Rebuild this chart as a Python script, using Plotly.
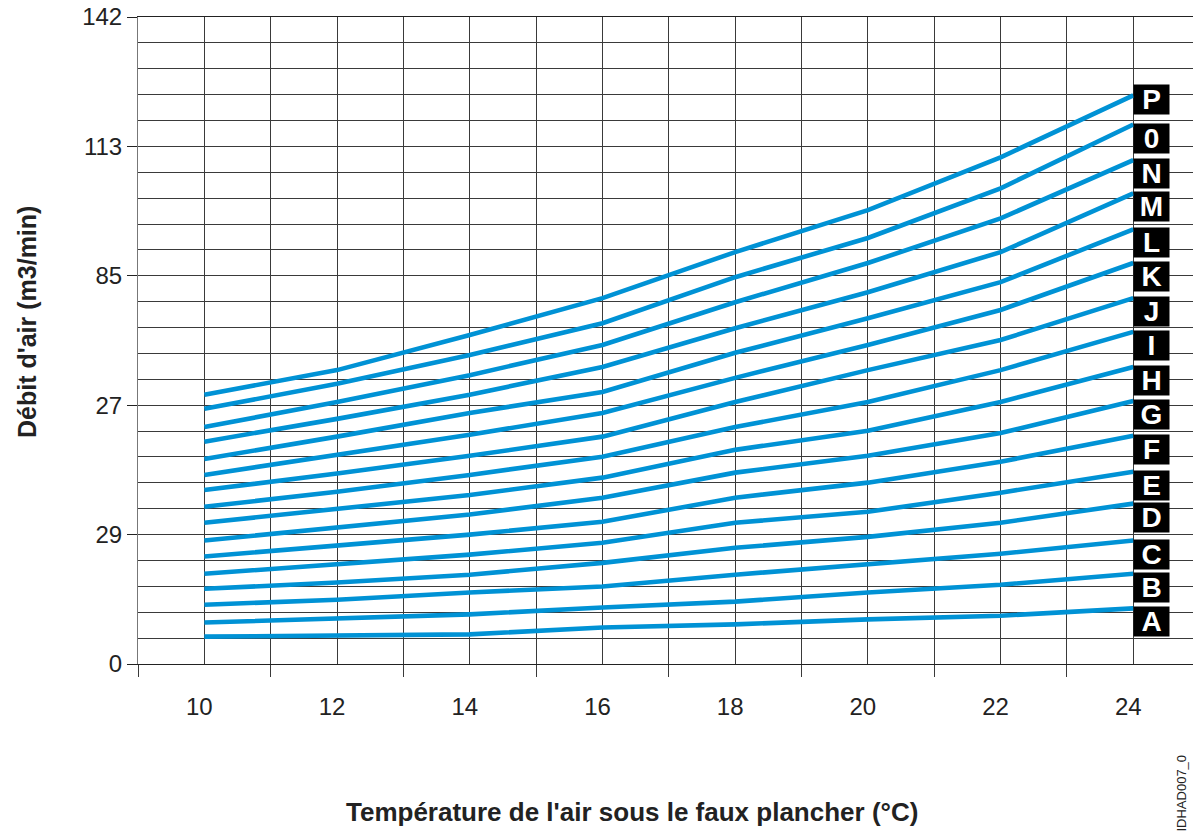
import plotly.graph_objects as go

# -------------------------------
# Données lues sur l'abaque
# -------------------------------
temperature = [10, 12, 14, 16, 18, 20, 22, 24]  # °C

debit_A = [6.0, 6.2, 6.5, 8.0, 8.7, 9.8, 10.6, 12.2]
debit_B = [9.1, 10.0, 10.9, 12.4, 13.7, 15.7, 17.4, 19.8]
debit_C = [13.0, 14.1, 15.7, 17.0, 19.6, 21.8, 24.2, 27.1]
debit_D = [16.5, 17.9, 19.6, 22.2, 25.5, 27.9, 31.0, 35.2]
debit_E = [19.8, 21.8, 24.0, 26.6, 31.0, 33.4, 37.6, 42.2]
debit_F = [23.6, 26.0, 28.4, 31.2, 36.5, 39.8, 44.4, 50.1]
debit_G = [27.1, 29.9, 32.8, 36.5, 42.0, 45.7, 50.7, 57.7]
debit_H = [31.0, 34.1, 37.1, 40.9, 47.0, 51.2, 57.5, 65.2]
debit_I = [34.5, 37.8, 41.5, 45.5, 52.0, 57.5, 64.5, 72.9]
debit_J = [38.2, 41.8, 45.7, 49.9, 57.5, 64.5, 71.1, 80.3]
debit_K = [41.5, 45.9, 50.3, 55.1, 62.8, 70.0, 77.7, 88.0]
debit_L = [45.0, 49.9, 55.1, 59.7, 68.3, 75.9, 83.8, 95.4]
debit_M = [48.8, 53.8, 59.1, 65.2, 73.7, 81.6, 90.4, 103.3]
debit_N = [52.0, 57.5, 63.4, 70.0, 79.4, 88.0, 97.8, 110.6]
debit_0 = [56.0, 61.5, 67.8, 74.8, 84.9, 93.5, 104.4, 118.4]
debit_P = [59.1, 64.5, 72.2, 80.3, 90.4, 99.6, 111.2, 124.8]

noms = ["A", "B", "C", "D", "E", "F", "G", "H",
        "I", "J", "K", "L", "M", "N", "0", "P"]
series = [debit_A, debit_B, debit_C, debit_D, debit_E, debit_F, debit_G, debit_H,
          debit_I, debit_J, debit_K, debit_L, debit_M, debit_N, debit_0, debit_P]

# graduations de l'axe Y (texte tel qu'imprimé sur l'original)
y_ticks = [0, 28.4, 56.8, 85.2, 113.6, 142]
y_labels = ["0", "29", "27", "85", "113", "142"]
x_ticks = [10, 12, 14, 16, 18, 20, 22, 24]

BLEU = "#0092D5"
GRILLE = "#3a3a3a"
POLICE = "Liberation Sans, Arial, sans-serif"

fig = go.Figure()

for nom, vals in zip(noms, series):
    fig.add_trace(go.Scatter(
        x=temperature, y=vals, mode="lines", name=nom,
        line=dict(color=BLEU, width=4.6),
        showlegend=False,
    ))

# étiquettes noires A..P en bout de courbe
decalage = {"P": 11}
for nom, vals in zip(noms, series):
    fig.add_annotation(
        x=temperature[-1], y=vals[-1], xref="x", yref="y",
        text=f"<b>{nom}</b>", showarrow=False,
        xanchor="left", yanchor="top", yshift=decalage.get(nom, 2),
        bgcolor="black", width=35, height=29, borderpad=0,
        align="center", valign="middle",
        font=dict(family=POLICE, size=28, color="white"),
    )

# titres des axes
fig.add_annotation(
    text="<b>Température de l'air sous le faux plancher (°C)</b>",
    xref="paper", yref="paper", x=0.468, y=-0.229,
    xanchor="center", yanchor="middle",
    showarrow=False, font=dict(family=POLICE, size=26, color="#222"),
)
fig.add_annotation(
    text="<b>Débit d'air (m3/min)</b>", textangle=-90,
    xref="paper", yref="paper", x=-0.105, y=0.529,
    xanchor="center", yanchor="middle",
    showarrow=False, font=dict(family=POLICE, size=25, color="#222"),
)
# référence du document, au bord droit
fig.add_annotation(
    text="IDHAD007_0", textangle=-90,
    xref="paper", yref="paper", x=1.0, y=-0.262,
    xanchor="right", yanchor="bottom", xshift=-2,
    showarrow=False, font=dict(family=POLICE, size=13, color="#222"),
)

fig.update_xaxes(
    range=[9, 24.9], automargin=False,
    tickmode="array", tickvals=x_ticks, ticks="",
    ticklabelshift=-5, ticklabelstandoff=21,
    showgrid=True, gridcolor=GRILLE, gridwidth=1,
    minor=dict(tickmode="linear", tick0=9, dtick=2, ticks="outside",
               ticklen=12, tickcolor=GRILLE, tickwidth=1,
               showgrid=True, gridcolor=GRILLE, gridwidth=1),
    showline=True, mirror=True, linecolor="#222", linewidth=1.2,
    zeroline=False,
    tickfont=dict(family=POLICE, size=24, color="#222"),
)
fig.update_yaxes(
    range=[0, 142], automargin=False,
    tickmode="array", tickvals=y_ticks, ticktext=y_labels,
    ticklabeloverflow="allow",
    ticks="outside", ticklen=10, tickcolor="#222", tickwidth=1,
    showgrid=True, gridcolor=GRILLE, gridwidth=1.2,
    minor=dict(tickmode="linear", tick0=0, dtick=5.68,
               showgrid=True, gridcolor=GRILLE, gridwidth=1.2),
    showline=True, linecolor="#777", linewidth=1,
    zeroline=False,
    tickfont=dict(family=POLICE, size=24, color="#222"),
)

fig.update_layout(
    width=1193, height=834,
    margin=dict(l=138, r=0, t=17, b=170),
    plot_bgcolor="white", paper_bgcolor="white",
)

# page sans marge pour que le graphique occupe toute la fenêtre
fig.write_html("out.html", config={"displayModeBar": False},
               post_script="document.body.style.margin='0';")
